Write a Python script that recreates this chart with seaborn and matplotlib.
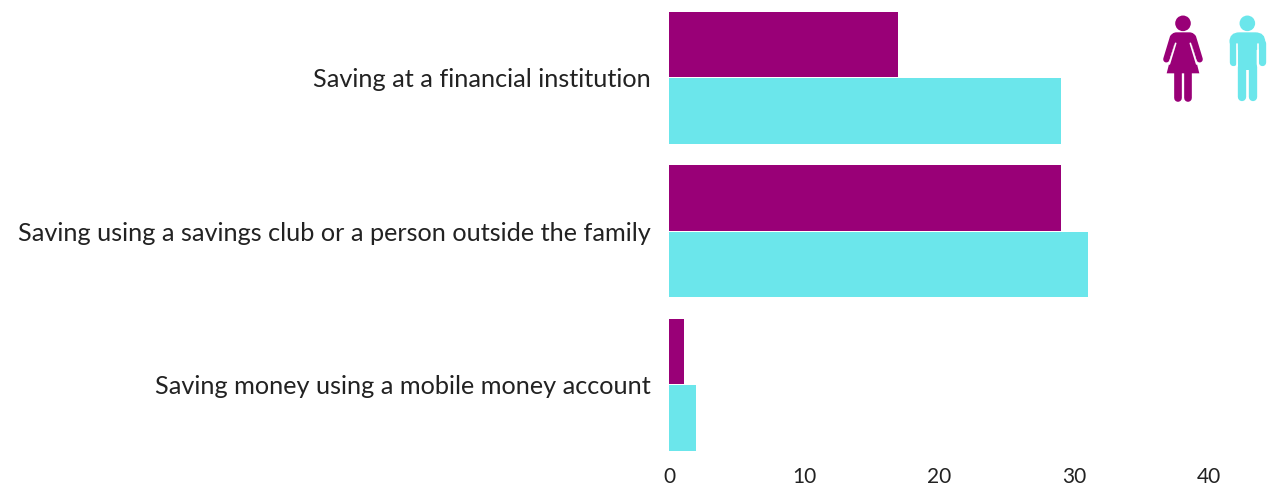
import matplotlib as mpl

mpl.use("Agg")

import matplotlib.pyplot as plt
import pandas as pd
import seaborn as sns
from matplotlib.patches import Circle, FancyBboxPatch, Polygon

categories = [
    "Saving at a financial institution",
    "Saving using a savings club or a person outside the family",
    "Saving money using a mobile money account",
]
women = [17, 29, 1.1]
men = [29, 31, 2]
xticks = [0, 10, 20, 30, 40]

PURPLE = "#990077"
CYAN = "#6BE6EB"
W, H = 1273, 488

sns.set_theme(style="white")
plt.rcParams["font.family"] = ["Lato", "DejaVu Sans"]

df = pd.DataFrame(
    {
        "category": categories * 2,
        "value": women + men,
        "sex": ["Women"] * 3 + ["Men"] * 3,
    }
)

fig = plt.figure(figsize=(W / 100, H / 100), dpi=100)
ax = fig.add_axes([669 / W, (H - 465) / H, (W - 669) / W, 465 / H])

sns.barplot(
    data=df,
    y="category",
    x="value",
    hue="sex",
    order=categories,
    hue_order=["Women", "Men"],
    palette=[PURPLE, CYAN],
    saturation=1,
    width=0.866,
    gap=0.015,
    linewidth=0,
    legend=False,
    ax=ax,
)

ax.set_xlim(0, (W - 669) / 13.5)
ax.set_ylim(2.522, -0.507)
ax.set_xticks(xticks)
ax.set_xlabel("")
ax.set_ylabel("")
ax.tick_params(axis="y", length=0, pad=13, labelsize=18.2, labelcolor="#222222")
ax.tick_params(axis="x", length=0, pad=1.5, labelsize=15, labelcolor="#222222")
sns.despine(ax=ax, left=True, bottom=True)

# icons, overlay in pixel coords
ov = fig.add_axes([0, 0, 1, 1], zorder=5)
ov.set_xlim(0, W)
ov.set_ylim(H, 0)
ov.axis("off")


def z(x, y):
    # reference zoom crop coords -> pixels
    return 1140 + x / 3, y / 3


def stroke(p0, p1, width, color):
    a, b = z(*p0), z(*p1)
    ov.plot(
        [a[0], b[0]],
        [a[1], b[1]],
        color=color,
        lw=width / 3 * 0.72,
        solid_capstyle="round",
    )


def box(x0, y0, x1, y1, color, r=18):
    a, b = z(x0, y0), z(x1, y1)
    ov.add_patch(
        FancyBboxPatch(
            (a[0] + r / 3, a[1] + r / 3),
            b[0] - a[0] - 2 * r / 3,
            b[1] - a[1] - 2 * r / 3,
            boxstyle="round,pad=%f" % (r / 3),
            fc=color,
            ec="none",
        )
    )


# woman
ov.add_patch(Circle(z(129, 70), 7.8, fc=PURPLE, ec="none"))
stroke((99, 112), (79, 178), 19, PURPLE)
stroke((159, 112), (179, 178), 19, PURPLE)
box(92, 97, 166, 135, PURPLE)
stroke((107, 130), (88, 192), 5, "white")
stroke((151, 130), (170, 192), 5, "white")
ov.add_patch(
    Polygon(
        [z(*p) for p in [(108, 110), (150, 110), (178, 220), (80, 220)]],
        fc=PURPLE,
        ec="none",
    )
)
stroke((114, 215), (114, 293), 23, PURPLE)
stroke((144, 215), (144, 293), 23, PURPLE)

# man
ov.add_patch(Circle(z(322, 70), 7.8, fc=CYAN, ec="none"))
box(268, 97, 376, 150, CYAN, r=30)
stroke((279, 130), (279, 186), 22, CYAN)
stroke((365, 130), (365, 186), 22, CYAN)
stroke((291, 132), (291, 205), 5, "white")
stroke((353, 132), (353, 205), 5, "white")
box(294, 120, 350, 210, CYAN, r=1)
stroke((307, 200), (307, 292), 25, CYAN)
stroke((338, 200), (338, 292), 25, CYAN)

fig.savefig("out.png", dpi=100)
